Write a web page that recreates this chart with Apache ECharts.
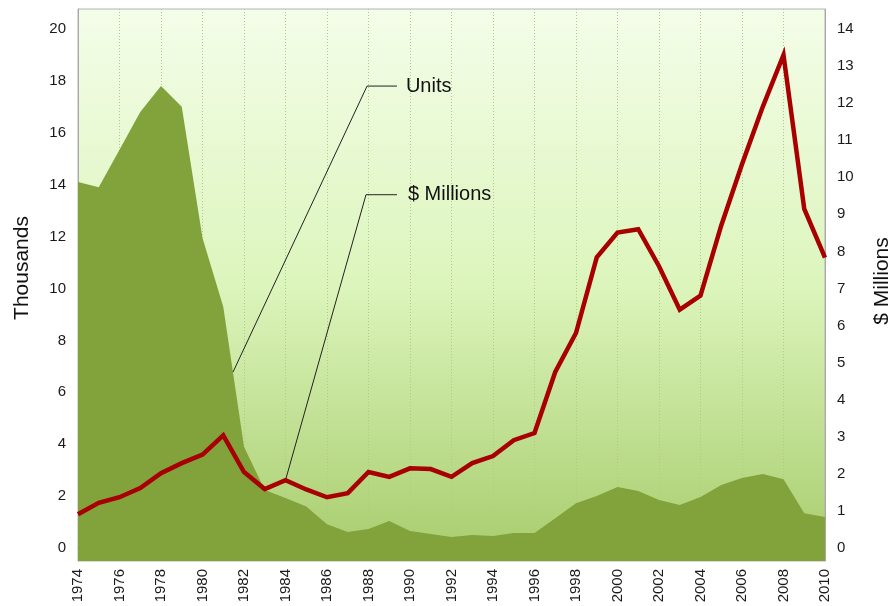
<!DOCTYPE html>
<html>
<head>
<meta charset="utf-8">
<script src="https://cdn.jsdelivr.net/npm/echarts@6/dist/echarts.min.js"></script>
<style>html,body{margin:0;padding:0;background:#fff}#c{width:888px;height:606px}</style>
</head>
<body>
<div id="c"></div>
<script>
// ---- data ----
const years = [1974,1975,1976,1977,1978,1979,1980,1981,1982,1983,1984,1985,1986,1987,1988,1989,1990,1991,1992,1993,1994,1995,1996,1997,1998,1999,2000,2001,2002,2003,2004,2005,2006,2007,2008,2009,2010];
const unitsThousands = [14.1,13.9,15.35,16.8,17.8,17.0,11.95,9.3,3.9,2.24,1.93,1.6,0.92,0.62,0.73,1.04,0.66,0.54,0.42,0.5,0.46,0.58,0.58,1.15,1.73,2.0,2.35,2.2,1.85,1.66,1.97,2.43,2.7,2.85,2.65,1.34,1.2];
const dollarsMillions = [0.91,1.22,1.37,1.62,2.02,2.29,2.52,3.04,2.05,1.59,1.83,1.58,1.37,1.48,2.05,1.92,2.15,2.13,1.92,2.29,2.48,2.91,3.1,4.75,5.8,7.84,8.51,8.6,7.6,6.43,6.81,8.7,10.35,11.9,13.3,9.15,7.83];
const leftTickLabels = [0,2,4,6,8,10,12,14,16,18,20];
const rightTickLabels = [0,1,2,3,4,5,6,7,8,9,10,11,12,13,14];
const seriesNames = ['Units', '$ Millions'];
const axisTitles = ['Thousands', '$ Millions'];

// callout leader lines (data coordinates)
const unitsLeader = [[1981.47, 6.78], [1987.93, 17.8], [1989.37, 17.8]];
const dollarsLeader = [[1984, dollarsMillions[10]], [1987.88, 9.53], [1989.37, 9.53]];

const FONT = '"Liberation Sans", Arial, Helvetica, sans-serif';
const chart = echarts.init(document.getElementById('c'), null, {renderer: 'canvas'});

function isInt(v){ return Math.abs(v - Math.round(v)) < 1e-6; }

const option = {
  animation: false,
  textStyle: {fontFamily: FONT},
  grid: {
    left: 78, right: 63, top: 9, bottom: 45,
    show: true,
    borderColor: '#b3b3b3', borderWidth: 1,
    backgroundColor: new echarts.graphic.LinearGradient(0, 0, 0, 1, [
      {offset: 0, color: '#f4fde9'},
      {offset: 0.5, color: '#dcf5bc'},
      {offset: 1, color: '#a7cc6c'}
    ])
  },
  xAxis: {
    type: 'value', min: 1974, max: 2010, interval: 2,
    axisLine: {show: true, lineStyle: {color: '#a8a8a8', width: 1}},
    axisTick: {show: false},
    splitLine: {show: true, lineStyle: {color: '#b3c98a', width: 1, type: [1, 2]}},
    axisLabel: {rotate: 90, fontSize: 15, color: '#1a1a1a', margin: 8, fontFamily: FONT,
      formatter: v => String(v)}
  },
  yAxis: [
    {
      type: 'value', min: -0.5, max: 20.77, interval: 0.5,
      axisLine: {show: true, lineStyle: {color: '#a8a8a8'}},
      axisTick: {show: false},
      splitLine: {show: false},
      axisLabel: {fontSize: 15, color: '#1a1a1a', margin: 12, fontFamily: FONT,
        formatter: v => (isInt(v) && leftTickLabels.indexOf(Math.round(v)) >= 0) ? String(Math.round(v)) : ''}
    },
    {
      type: 'value', min: -0.35, max: 14.539, interval: 0.05, position: 'right',
      axisLine: {show: true, lineStyle: {color: '#a8a8a8'}},
      axisTick: {show: false},
      splitLine: {show: false},
      axisLabel: {fontSize: 15, color: '#1a1a1a', margin: 12, fontFamily: FONT,
        formatter: v => (isInt(v) && rightTickLabels.indexOf(Math.round(v)) >= 0) ? String(Math.round(v)) : ''}
    }
  ],
  series: [
    {
      name: seriesNames[0], type: 'line', yAxisIndex: 0, symbol: 'none',
      data: years.map((y, i) => [y, unitsThousands[i]]),
      lineStyle: {width: 0, color: '#82a23b'},
      areaStyle: {color: '#82a23b', opacity: 1, origin: 'start'},
      z: 2
    },
    {
      name: 'unitsLeader', type: 'line', yAxisIndex: 0, symbol: 'none', silent: true,
      data: unitsLeader,
      lineStyle: {width: 1, color: '#222'},
      endLabel: {show: true, formatter: seriesNames[0], color: '#111', fontSize: 20, distance: 9, fontFamily: FONT},
      z: 3
    },
    {
      name: 'dollarsLeader', type: 'line', yAxisIndex: 1, symbol: 'none', silent: true,
      data: dollarsLeader,
      lineStyle: {width: 1, color: '#222'},
      endLabel: {show: true, formatter: seriesNames[1], color: '#111', fontSize: 20, distance: 11, fontFamily: FONT},
      z: 3
    },
    {
      name: seriesNames[1], type: 'line', yAxisIndex: 1, symbol: 'none',
      data: years.map((y, i) => [y, dollarsMillions[i]]),
      lineStyle: {width: 4.5, color: '#a80000', join: 'miter', cap: 'butt'},
      z: 4
    }
  ],
  graphic: [
    {type: 'text', x: 22, y: 268, rotation: Math.PI / 2,
      style: {text: axisTitles[0], fontSize: 21, fontFamily: FONT, fill: '#111', align: 'center', verticalAlign: 'middle'}},
    {type: 'text', x: 882, y: 281, rotation: Math.PI / 2,
      style: {text: axisTitles[1], fontSize: 21, fontFamily: FONT, fill: '#111', align: 'center', verticalAlign: 'middle'}}
  ]
};
chart.setOption(option);
</script>
</body>
</html>
